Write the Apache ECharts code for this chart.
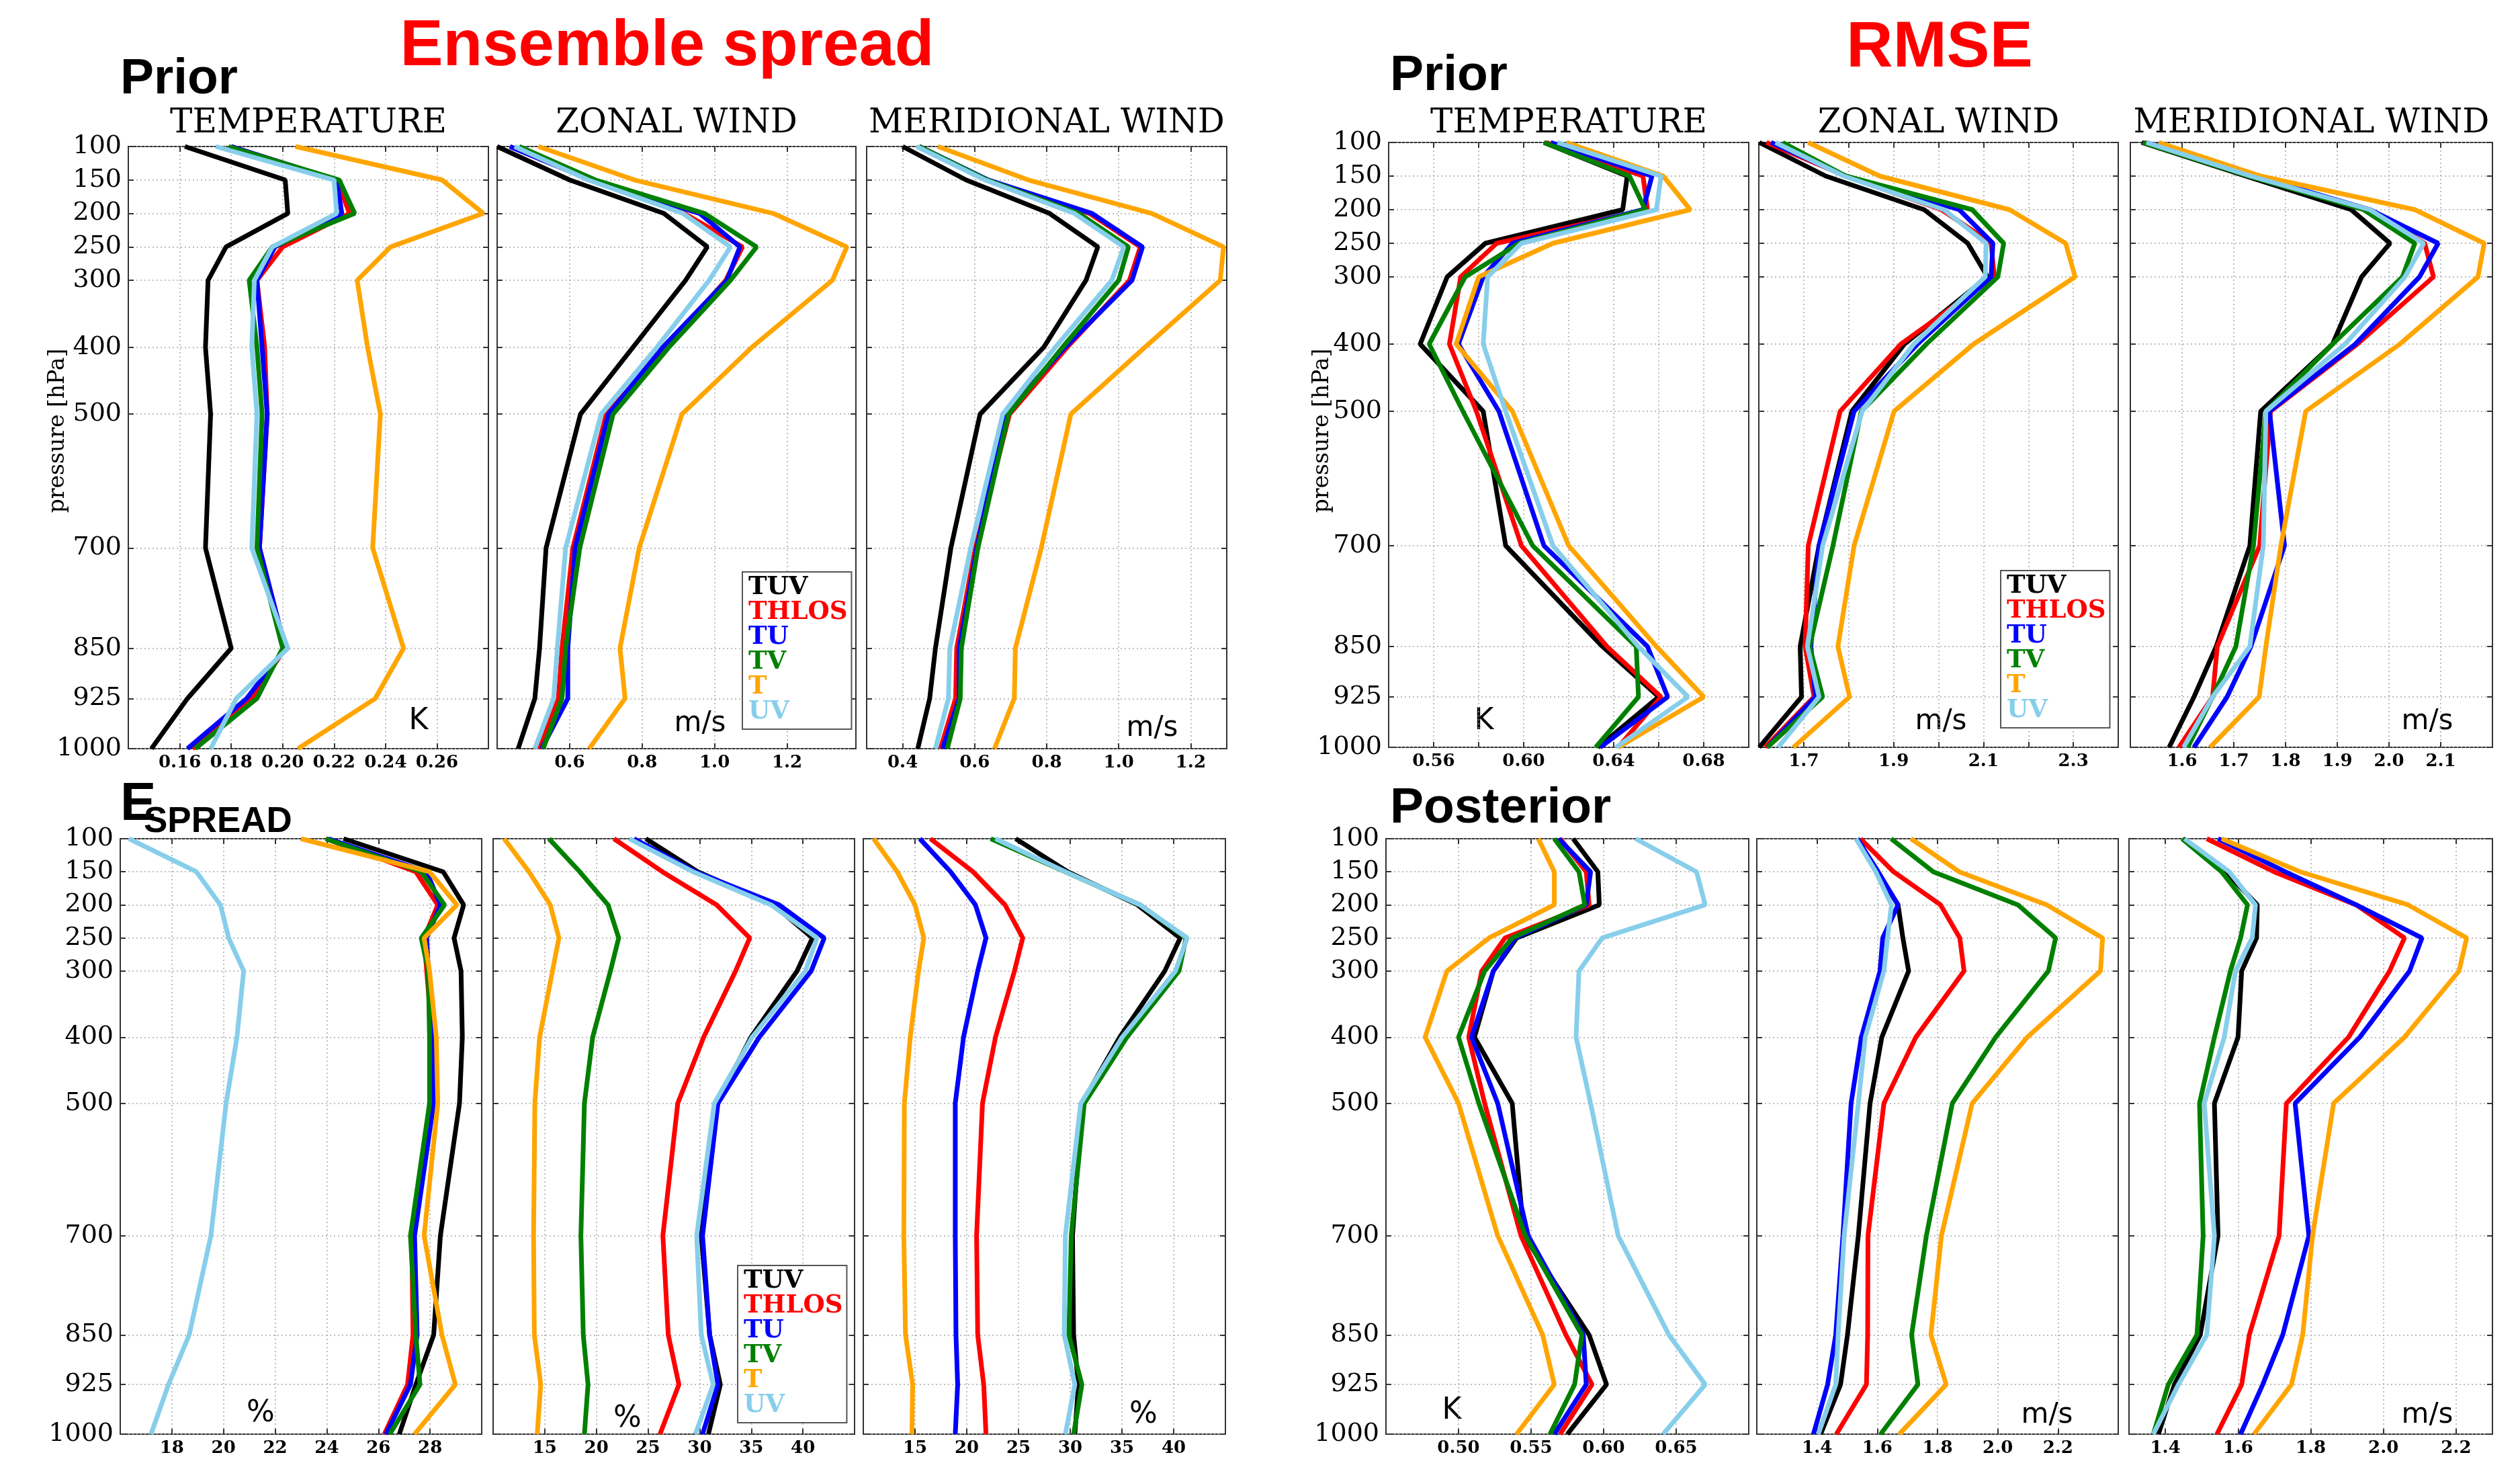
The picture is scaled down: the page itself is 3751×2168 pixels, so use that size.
<!DOCTYPE html>
<html><head><meta charset="utf-8">
<script src="https://cdn.jsdelivr.net/npm/echarts@6/dist/echarts.min.js"></script>
<style>html,body{margin:0;padding:0;background:#fff}#c{width:3751px;height:2168px}</style>
</head><body><div id="c"></div>
<script>
// ---------------- DATA ----------------
const levels = [100,150,200,250,300,400,500,700,850,925,1000];
const seriesNames = ['TUV','THLOS','TU','TV','T','UV'];
const seriesColors = ['#000000','#ff0000','#0000ff','#008000','#ffa500','#87ceeb'];
const panelTitles = ['TEMPERATURE','ZONAL WIND','MERIDIONAL WIND'];

// Ensemble spread – Prior (order: TUV, THLOS, TU, TV, T, UV)
const spreadPriorTemperature = [
  [0.162,0.201,0.202,0.178,0.171,0.170,0.172,0.170,0.180,0.163,0.149],
  [0.180,0.221,0.226,0.200,0.190,0.193,0.194,0.191,0.201,0.188,0.165],
  [0.180,0.221,0.223,0.197,0.190,0.192,0.194,0.191,0.201,0.186,0.163],
  [0.179,0.222,0.228,0.196,0.187,0.190,0.192,0.190,0.200,0.190,0.166],
  [0.205,0.262,0.278,0.242,0.229,0.233,0.238,0.235,0.247,0.236,0.206],
  [0.174,0.220,0.221,0.196,0.189,0.188,0.190,0.188,0.202,0.182,0.172]
];
const spreadPriorZonal = [
  [0.400,0.600,0.860,0.980,0.920,0.775,0.630,0.535,0.517,0.504,0.458],
  [0.435,0.658,0.916,1.077,1.031,0.867,0.701,0.609,0.579,0.569,0.514],
  [0.435,0.658,0.959,1.070,1.034,0.857,0.707,0.615,0.595,0.595,0.523],
  [0.461,0.671,0.972,1.116,1.044,0.874,0.720,0.628,0.589,0.579,0.527],
  [0.514,0.779,1.162,1.365,1.325,1.103,0.910,0.792,0.739,0.753,0.654],
  [0.448,0.651,0.913,1.044,0.985,0.841,0.687,0.589,0.566,0.556,0.504]
];
const spreadPriorMeridional = [
  [0.400,0.576,0.808,0.942,0.909,0.792,0.615,0.534,0.491,0.475,0.442],
  [0.446,0.635,0.919,1.060,1.030,0.857,0.697,0.602,0.550,0.547,0.505],
  [0.446,0.638,0.926,1.066,1.037,0.851,0.684,0.606,0.557,0.557,0.511],
  [0.446,0.635,0.890,1.027,1.000,0.844,0.694,0.609,0.563,0.560,0.524],
  [0.498,0.749,1.092,1.291,1.282,1.073,0.867,0.785,0.713,0.710,0.655],
  [0.439,0.629,0.877,1.014,0.981,0.824,0.678,0.589,0.531,0.527,0.491]
];
// RMSE – Prior
const rmsePriorTemperature = [
  [0.609,0.646,0.644,0.583,0.566,0.554,0.582,0.592,0.635,0.660,0.633],
  [0.610,0.653,0.655,0.588,0.572,0.567,0.579,0.599,0.637,0.661,0.642],
  [0.612,0.657,0.653,0.595,0.582,0.571,0.589,0.609,0.655,0.664,0.634],
  [0.609,0.647,0.654,0.598,0.574,0.558,0.573,0.604,0.650,0.651,0.632],
  [0.619,0.662,0.674,0.613,0.580,0.570,0.595,0.620,0.659,0.680,0.642],
  [0.615,0.661,0.659,0.599,0.584,0.582,0.592,0.613,0.651,0.673,0.641]
];
const rmsePriorZonal = [
  [1.601,1.749,1.968,2.065,2.109,1.924,1.807,1.734,1.692,1.695,1.601],
  [1.617,1.794,2.007,2.117,2.124,1.916,1.781,1.710,1.703,1.723,1.614],
  [1.627,1.794,2.046,2.121,2.117,1.953,1.812,1.734,1.716,1.726,1.619],
  [1.653,1.794,2.075,2.145,2.132,1.973,1.828,1.765,1.713,1.742,1.619],
  [1.710,1.869,2.158,2.283,2.304,2.078,1.901,1.812,1.776,1.802,1.677],
  [1.637,1.789,2.012,2.106,2.104,1.945,1.830,1.742,1.708,1.734,1.643]
];
const rmsePriorMeridional = [
  [1.522,1.723,1.927,2.002,1.947,1.891,1.752,1.731,1.666,1.623,1.575],
  [1.527,1.733,1.963,2.069,2.086,1.939,1.771,1.750,1.668,1.659,1.594],
  [1.531,1.743,1.963,2.095,2.059,1.935,1.769,1.798,1.733,1.687,1.623],
  [1.524,1.728,1.951,2.050,2.026,1.891,1.762,1.738,1.704,1.659,1.611],
  [1.555,1.752,2.050,2.184,2.172,2.021,1.839,1.791,1.762,1.749,1.654],
  [1.531,1.733,1.963,2.067,2.031,1.915,1.762,1.757,1.731,1.659,1.603]
];
// E_SPREAD (%)
const espreadTemperature = [
  [24.65,28.51,29.30,28.93,29.20,29.25,29.14,28.40,28.14,27.45,26.81],
  [23.96,27.45,28.30,27.77,27.87,28.08,28.14,27.29,27.34,27.13,26.23],
  [24.06,27.87,28.40,27.87,27.93,28.08,28.14,27.40,27.50,27.24,26.29],
  [23.96,27.66,28.56,27.66,27.93,27.98,27.98,27.24,27.45,27.61,26.44],
  [23.00,27.98,29.04,27.77,27.98,28.24,28.30,27.77,28.46,28.98,27.40],
  [16.34,18.95,19.88,20.20,20.78,20.52,20.10,19.51,18.67,17.87,17.19]
];
const espreadZonal = [
  [24.79,29.82,37.14,40.92,39.43,34.97,31.65,30.16,30.97,32.00,30.85],
  [21.70,26.39,31.65,34.85,33.48,30.39,27.88,26.44,26.96,27.99,26.16],
  [23.65,29.59,37.71,42.06,40.80,35.77,31.77,30.28,30.97,31.77,30.28],
  [15.41,18.39,21.13,22.16,21.36,19.64,18.84,18.50,18.73,19.19,18.84],
  [11.07,13.47,15.53,16.37,15.75,14.50,14.04,13.92,13.99,14.61,14.27],
  [23.19,29.36,36.91,41.37,40.23,35.08,31.42,29.71,30.16,31.31,29.59]
];
const espreadMeridional = [
  [24.73,29.76,36.51,40.63,39.14,34.79,31.13,30.22,30.33,30.79,30.45],
  [16.49,20.61,23.70,25.41,24.61,22.78,21.52,20.95,21.06,21.64,21.86],
  [15.46,18.43,20.84,21.86,21.06,19.69,18.89,18.89,18.96,19.12,18.89],
  [22.32,29.53,36.74,41.20,40.51,35.48,31.36,30.10,29.87,31.13,30.33],
  [11.00,13.28,15.00,15.85,15.34,14.54,13.97,13.92,14.08,14.77,14.70],
  [22.78,29.53,36.74,41.31,40.17,35.02,31.02,29.53,29.42,30.45,29.53]
];
// RMSE – Posterior
const rmsePostTemperature = [
  [0.579,0.596,0.597,0.540,0.524,0.511,0.537,0.545,0.590,0.602,0.575],
  [0.570,0.588,0.590,0.532,0.516,0.507,0.518,0.543,0.574,0.592,0.570],
  [0.569,0.591,0.588,0.539,0.524,0.509,0.527,0.548,0.586,0.588,0.566],
  [0.566,0.583,0.587,0.537,0.518,0.500,0.514,0.546,0.585,0.580,0.563],
  [0.555,0.566,0.566,0.521,0.492,0.477,0.500,0.527,0.558,0.566,0.540],
  [0.622,0.664,0.670,0.599,0.583,0.581,0.591,0.610,0.645,0.670,0.641]
];
const rmsePostZonal = [
  [1.533,1.599,1.669,1.685,1.704,1.615,1.576,1.537,1.501,1.478,1.412],
  [1.544,1.654,1.810,1.874,1.888,1.728,1.622,1.569,1.568,1.564,1.464],
  [1.533,1.603,1.669,1.618,1.609,1.547,1.513,1.486,1.462,1.435,1.388],
  [1.646,1.786,2.067,2.192,2.168,1.993,1.849,1.763,1.714,1.735,1.611],
  [1.712,1.872,2.163,2.348,2.341,2.098,1.915,1.813,1.778,1.829,1.673],
  [1.529,1.595,1.647,1.634,1.622,1.560,1.537,1.490,1.470,1.462,1.404]
];
const rmsePostMeridional = [
  [1.449,1.566,1.653,1.651,1.610,1.600,1.535,1.545,1.496,1.425,1.381],
  [1.514,1.699,1.925,2.058,2.017,1.904,1.733,1.713,1.631,1.610,1.542],
  [1.545,1.730,1.925,2.106,2.072,1.935,1.757,1.795,1.723,1.668,1.607],
  [1.446,1.555,1.626,1.607,1.579,1.535,1.494,1.504,1.487,1.408,1.367],
  [1.555,1.771,2.068,2.229,2.208,2.058,1.863,1.805,1.778,1.747,1.644],
  [1.453,1.576,1.648,1.639,1.593,1.562,1.507,1.535,1.514,1.436,1.367]
];

// x-axis ranges, tick values and tick labels per panel
const xRanges = [[0.14,0.28],[0.4,1.39],[0.3,1.3],[0.54,0.70],[1.6,2.4],[1.5,2.2],
                 [16,30],[10,45],[10,45],[0.45,0.70],[1.2,2.4],[1.3,2.3]];
const xTicks = [
  [0.16,0.18,0.20,0.22,0.24,0.26],[0.6,0.8,1.0,1.2],[0.4,0.6,0.8,1.0,1.2],
  [0.56,0.58,0.60,0.62,0.64,0.66,0.68],[1.7,1.8,1.9,2.0,2.1,2.2,2.3],[1.6,1.7,1.8,1.9,2.0,2.1],
  [18,20,22,24,26,28],[15,20,25,30,35,40],[15,20,25,30,35,40],
  [0.50,0.55,0.60,0.65],[1.4,1.6,1.8,2.0,2.2],[1.4,1.6,1.8,2.0,2.2]
];
const xTickLabels = [
  [0.16,0.18,0.20,0.22,0.24,0.26],[0.6,0.8,1.0,1.2],[0.4,0.6,0.8,1.0,1.2],
  [0.56,0.60,0.64,0.68],[1.7,1.9,2.1,2.3],[1.6,1.7,1.8,1.9,2.0,2.1],
  [18,20,22,24,26,28],[15,20,25,30,35,40],[15,20,25,30,35,40],
  [0.50,0.55,0.60,0.65],[1.4,1.6,1.8,2.0,2.2],[1.4,1.6,1.8,2.0,2.2]
];
const xDecimals = [2,1,1,2,1,1,0,0,0,2,1,1];
const panelData = [spreadPriorTemperature,spreadPriorZonal,spreadPriorMeridional,
  rmsePriorTemperature,rmsePriorZonal,rmsePriorMeridional,
  espreadTemperature,espreadZonal,espreadMeridional,
  rmsePostTemperature,rmsePostZonal,rmsePostMeridional];
const panelUnits = ['K','m/s','m/s','K','m/s','m/s','%','%','%','K','m/s','m/s'];

// ---------------- LAYOUT ----------------
const boxes = [
  [191,218,536,896],[740,218,534,896],[1290,218,536,896],
  [2067,212,536,900],[2618,212,535,900],[3171,212,539,900],
  [179,1248,538,893],[734,1248,538,893],[1285,1248,539,893],
  [2063,1248,540,893],[2615,1248,538,893],[3169,1248,541,893]
];
const unitPos = [[623,1074],[1042,1077],[1715,1084],[2209,1074],[2889,1074],[3613,1074],
  [388,2104],[934,2112],[1702,2106],[2161,2100],[3047,2106],[3613,2106]];
const labelledY = [0,3,6,9];
const legendPos = [[1105,851],[2978,849],[1098,1883]];

const SERIF = 'DejaVu Serif';
const SANS = 'Liberation Sans';
const grid=[], xAxis=[], yAxis=[], series=[], graphic=[];
const gridLine = {show:true, lineStyle:{color:'#a8a8a8', width:1.5, type:[2,4]}};

boxes.forEach((b,k)=>{
  grid.push({left:b[0], top:b[1], width:b[2], height:b[3], show:true,
    borderColor:'#333', borderWidth:2, backgroundColor:'transparent', containLabel:false});
  const dec = xDecimals[k];
  const xBase = {type:'value', gridIndex:k, min:xRanges[k][0], max:xRanges[k][1],
    axisLine:{show:false}};
  xAxis.push(Object.assign({}, xBase, {position:'bottom',
    axisTick:{show:true, inside:true, length:8, customValues:xTicks[k], lineStyle:{color:'#333',width:2}},
    axisLabel:{show:true, customValues:xTickLabels[k], margin:8, color:'#000',
      fontFamily:SERIF, fontWeight:'bold', fontSize:26, formatter:v=>v.toFixed(dec)},
    splitLine:gridLine}));
  xAxis.push(Object.assign({}, xBase, {position:'top',
    axisTick:{show:true, inside:true, length:8, customValues:xTicks[k], lineStyle:{color:'#333',width:2}},
    axisLabel:{show:false}, splitLine:{show:false}}));
  const yBase = {type:'value', gridIndex:k, min:100, max:1000, inverse:true, axisLine:{show:false}};
  yAxis.push(Object.assign({}, yBase, {position:'left',
    axisTick:{show:true, inside:true, length:8, customValues:levels, lineStyle:{color:'#333',width:2}},
    axisLabel:{show:labelledY.includes(k), customValues:levels, margin:10, color:'#000',
      fontFamily:SERIF, fontSize:38, formatter:v=>String(v)},
    splitLine:gridLine}));
  yAxis.push(Object.assign({}, yBase, {position:'right',
    axisTick:{show:true, inside:true, length:8, customValues:levels, lineStyle:{color:'#333',width:2}},
    axisLabel:{show:false}, splitLine:{show:false}}));
  panelData[k].forEach((vals,i)=>{
    series.push({type:'line', name:seriesNames[i], xAxisIndex:2*k, yAxisIndex:2*k,
      data: vals.map((v,j)=>[v, levels[j]]), showSymbol:false, symbol:'none',
      lineStyle:{width:7, color:seriesColors[i]}, itemStyle:{color:seriesColors[i]},
      emphasis:{disabled:true}, animation:false});
  });
  graphic.push({type:'text', x:unitPos[k][0], y:unitPos[k][1], style:{text:panelUnits[k],
    fill:'#000', font:(panelUnits[k]==='m/s'?'42px':'44px')+' "DejaVu Sans"', align:'center', verticalAlign:'middle'}});
  if (k<6) {
    graphic.push({type:'text', x:b[0]+b[2]/2, y:184, style:{text:panelTitles[k%3], fill:'#000',
      font:'50px "'+SERIF+'"', align:'center', verticalAlign:'middle'}});
  }
});

// headings
graphic.push({type:'text', x:993, y:71, style:{text:'Ensemble spread', fill:'#ff0000',
  font:'bold 96px "'+SANS+'"', align:'center', verticalAlign:'middle'}});
graphic.push({type:'text', x:2887, y:73, style:{text:'RMSE', fill:'#ff0000',
  font:'bold 96px "'+SANS+'"', align:'center', verticalAlign:'middle'}});
graphic.push({type:'text', x:179, y:118, style:{text:'Prior', fill:'#000',
  font:'bold 75px "'+SANS+'"', align:'left', verticalAlign:'middle'}});
graphic.push({type:'text', x:2069, y:113, style:{text:'Prior', fill:'#000',
  font:'bold 75px "'+SANS+'"', align:'left', verticalAlign:'middle'}});
graphic.push({type:'text', x:2069, y:1203, style:{text:'Posterior', fill:'#000',
  font:'bold 75px "'+SANS+'"', align:'left', verticalAlign:'middle'}});
graphic.push({type:'text', x:179, y:1238, style:{text:'E', fill:'#000',
  font:'bold 80px "'+SANS+'"', align:'left', verticalAlign:'bottom'}});
graphic.push({type:'text', x:214, y:1250, style:{text:'SPREAD', fill:'#000',
  font:'bold 53px "'+SANS+'"', align:'left', verticalAlign:'bottom'}});
// y axis names
graphic.push({type:'text', x:86, y:641, rotation:Math.PI/2, style:{text:'pressure [hPa]', fill:'#000',
  font:'33px "'+SERIF+'"', align:'center', verticalAlign:'middle'}});
graphic.push({type:'text', x:1968, y:641, rotation:Math.PI/2, style:{text:'pressure [hPa]', fill:'#000',
  font:'33px "'+SERIF+'"', align:'center', verticalAlign:'middle'}});

const legend = legendPos.map(p=>({
  orient:'vertical', left:p[0], top:p[1], icon:'none', itemWidth:0, itemHeight:10, itemGap:0,
  padding:[5,6,7,4], borderColor:'#555', borderWidth:2, backgroundColor:'#fff',
  selectedMode:false,
  textStyle:{fontFamily:SERIF, fontWeight:'bold', fontSize:37, lineHeight:37},
  data: seriesNames.map((n,i)=>({name:n, textStyle:{color:seriesColors[i]}}))
}));

const chart = echarts.init(document.getElementById('c'), null, {renderer:'canvas'});
chart.setOption({backgroundColor:'#fff', animation:false, grid, xAxis, yAxis, series, legend, graphic});
</script></body></html>
